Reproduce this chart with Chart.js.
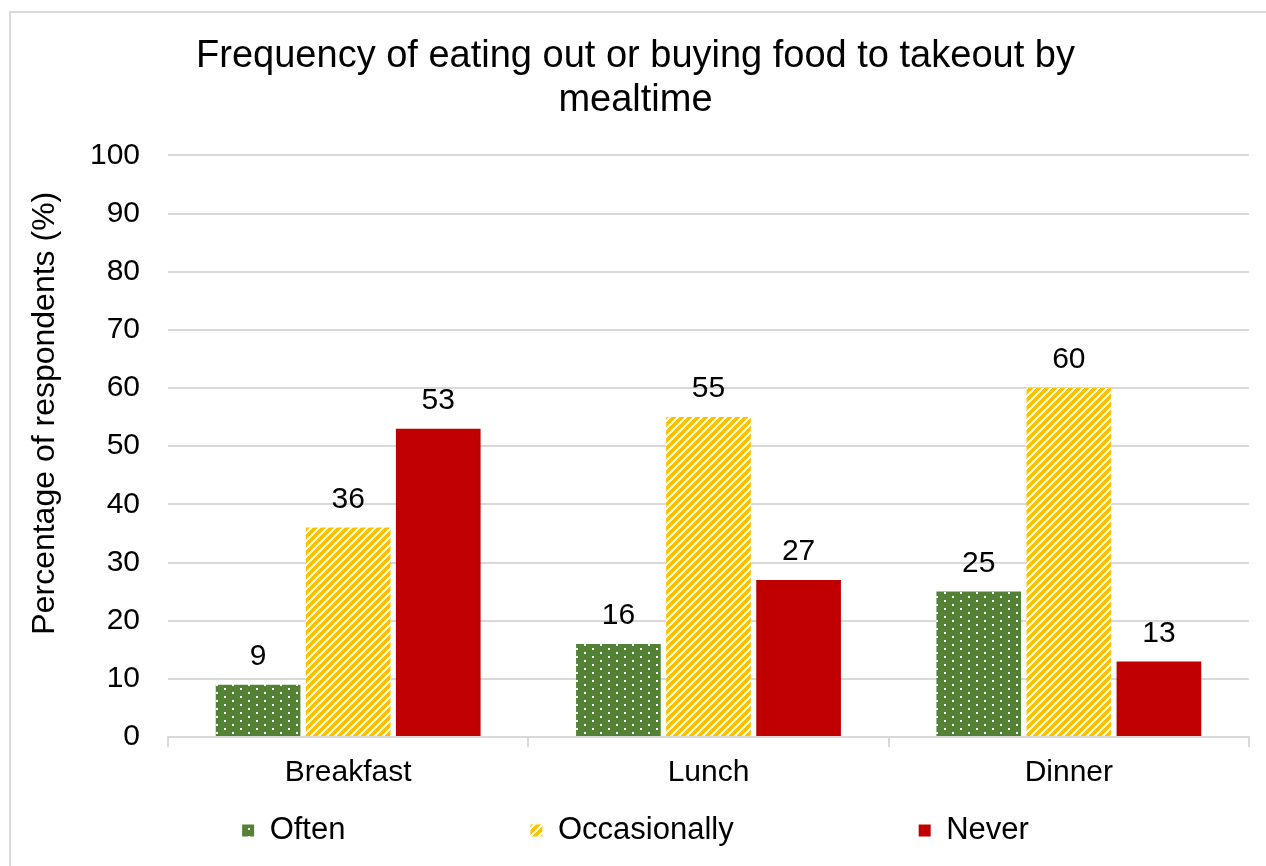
<!DOCTYPE html>
<html>
<head>
<meta charset="utf-8">
<title>Eating out by mealtime</title>
<script src="https://cdn.jsdelivr.net/npm/chart.js@4.4.1/dist/chart.umd.min.js"></script>
<style>
  html, body { margin: 0; padding: 0; background: #fff; overflow: hidden; }
  #frame {
    position: absolute; left: 9px; top: 11px; width: 1300px; height: 900px;
    border: 2px solid #d9d9d9; box-sizing: border-box;
  }
  #wrap { position: absolute; left: 0; top: 0; width: 1266px; height: 866px; }
</style>
</head>
<body>
<div id="frame"></div>
<div id="wrap"><canvas id="chart"></canvas></div>
<script>
const mealtimes = ['Breakfast', 'Lunch', 'Dinner'];
const often = [9, 16, 25];
const occasionally = [36, 55, 60];
const never = [53, 27, 13];
const yTicks = [0, 10, 20, 30, 40, 50, 60, 70, 80, 90, 100];
const yTitle = 'Percentage of respondents (%)';

const FONT = '"Liberation Sans", Arial, sans-serif';
Chart.defaults.font.family = FONT;
Chart.defaults.color = '#000';

const LEGEND_GAP = 185;               // horizontal space between legend entries
const LEGEND_TRIM = LEGEND_GAP - 14;  // vertical space handed back to the plot
const LEGEND_LIFT = LEGEND_GAP - 16;  // how far the item row is pulled up

// white dots on green
function dotPattern() {
  const c = document.createElement('canvas');
  c.width = 16; c.height = 8;
  const g = c.getContext('2d');
  g.fillStyle = '#548235';
  g.fillRect(0, 0, 16, 8);
  g.fillStyle = '#ffffff';
  g.fillRect(0, 0, 2, 2);
  g.fillRect(8, 4, 2, 2);
  return g.createPattern(c, 'repeat');
}

// upward diagonal yellow stripes on white
function stripePattern() {
  const s = 8;
  const c = document.createElement('canvas');
  c.width = s; c.height = s;
  const g = c.getContext('2d');
  const img = g.createImageData(s, s);
  for (let y = 0; y < s; y++) {
    for (let x = 0; x < s; x++) {
      const i = (y * s + x) * 4;
      const on = ((x + y) % s) < 5;
      img.data[i] = 255;
      img.data[i + 1] = on ? 192 : 255;
      img.data[i + 2] = on ? 0 : 255;
      img.data[i + 3] = 255;
    }
  }
  g.putImageData(img, 0, 0);
  return g.createPattern(c, 'repeat');
}

const valueLabels = {
  id: 'valueLabels',
  afterDatasetsDraw(chart) {
    const ctx = chart.ctx;
    ctx.save();
    ctx.font = '30px ' + FONT;
    ctx.fillStyle = '#000';
    ctx.textAlign = 'center';
    ctx.textBaseline = 'bottom';
    chart.data.datasets.forEach((ds, i) => {
      chart.getDatasetMeta(i).data.forEach((bar, j) => {
        ctx.fillText(ds.data[j], bar.x, bar.y - 13);
      });
    });
    ctx.restore();
  }
};

// rotated y axis title, sitting a little above the plot's middle
const axisTitle = {
  id: 'axisTitle',
  afterDraw(chart) {
    const { ctx, chartArea } = chart;
    const cy = (chartArea.top + chartArea.bottom) / 2 - 33;
    ctx.save();
    ctx.translate(45, cy);
    ctx.rotate(-Math.PI / 2);
    ctx.font = '32px ' + FONT;
    ctx.fillStyle = '#000';
    ctx.textAlign = 'center';
    ctx.textBaseline = 'middle';
    ctx.fillText(yTitle, 0, 0);
    ctx.restore();
  }
};

// legend padding is used both across and above the items; keep the wide
// horizontal gap but give back the vertical space it would take
const legendGap = {
  id: 'legendGap',
  beforeLayout(chart) {
    const legend = chart.legend;
    if (!legend || legend._gapPatched) return;
    const fit = legend.fit;
    legend.fit = function () {
      fit.call(this);
      this.height -= LEGEND_TRIM;
    };
    legend._gapPatched = true;
  },
  afterLayout(chart) {
    // only the top moves, so the clip box still covers the item row
    chart.legend.top -= LEGEND_LIFT;
  }
};

const ctx = document.getElementById('chart').getContext('2d');
new Chart(ctx, {
  type: 'bar',
  data: {
    labels: mealtimes,
    datasets: [
      { label: 'Often', data: often, backgroundColor: dotPattern() },
      { label: 'Occasionally', data: occasionally, backgroundColor: stripePattern() },
      { label: 'Never', data: never, backgroundColor: '#c00000' }
    ]
  },
  options: {
    responsive: true,
    maintainAspectRatio: false,
    animation: false,
    datasets: {
      bar: { categoryPercentage: 0.75, barPercentage: 0.94, borderWidth: 0 }
    },
    layout: { padding: { left: 22, right: 17, top: 20, bottom: 12 } },
    scales: {
      x: {
        grid: {
          offset: true,
          drawOnChartArea: false,
          drawTicks: true,
          tickLength: 10,
          color: '#d9d9d9',
          lineWidth: 2
        },
        border: { color: '#d9d9d9', width: 2 },
        ticks: { font: { size: 30 }, color: '#000', padding: 8 }
      },
      y: {
        min: 0,
        max: 100,
        afterBuildTicks(scale) {
          scale.ticks = yTicks.map(v => ({ value: v }));
        },
        afterFit(scale) {
          scale.width = 146;
        },
        grid: { color: '#d9d9d9', lineWidth: 2, drawTicks: false },
        border: { display: false },
        ticks: { font: { size: 30 }, color: '#000', padding: 28 }
      }
    },
    plugins: {
      title: {
        display: true,
        text: ['Frequency of eating out or buying food to takeout by', 'mealtime'],
        font: { size: 38, weight: 'normal', lineHeight: 1.15 },
        color: '#000',
        padding: { top: 15, bottom: 33 }
      },
      legend: {
        position: 'bottom',
        labels: {
          boxWidth: 12,
          boxHeight: 12,
          padding: LEGEND_GAP,
          font: { size: 31 },
          color: '#000'
        }
      },
      tooltip: { enabled: false }
    }
  },
  plugins: [valueLabels, axisTitle, legendGap]
});
</script>
</body>
</html>
